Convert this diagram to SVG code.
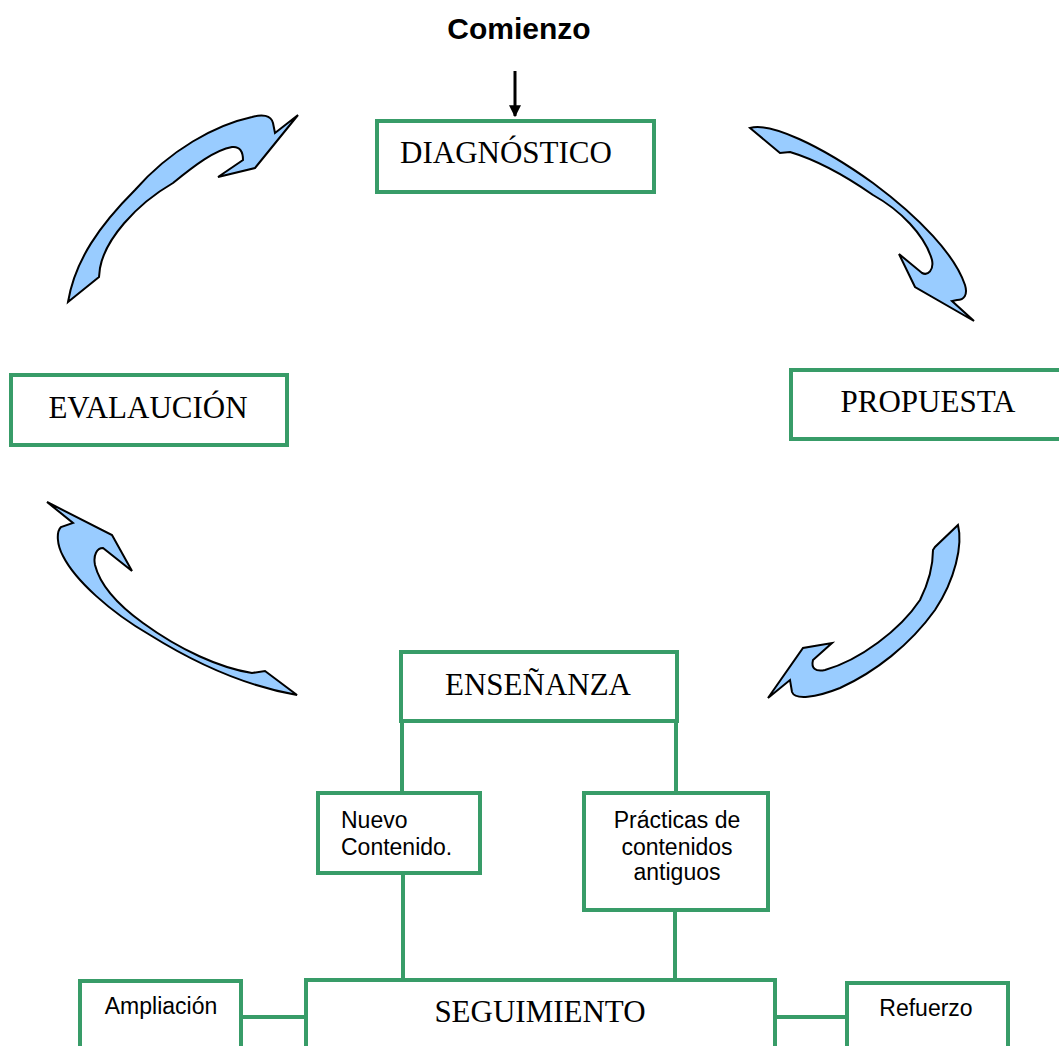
<svg xmlns="http://www.w3.org/2000/svg" width="1059" height="1046" viewBox="0 0 1059 1046">
<defs>
<marker id="ah" viewBox="0 0 10 10" refX="9" refY="5" markerWidth="4" markerHeight="4" orient="auto" markerUnits="strokeWidth"><path d="M0,0 L10,5 L0,10 Z" fill="#000"/></marker>
<style>
.box{fill:#fff;stroke:#389c68;stroke-width:4}
.ln{stroke:#389c68;stroke-width:4;fill:none}
.big{font-family:"Liberation Serif",serif;font-size:31px;fill:#000;text-anchor:middle}
.sm{font-family:"Liberation Sans",Arial,sans-serif;font-size:23px;fill:#000}
.cur{fill:#99ccff;stroke:#000;stroke-width:2;stroke-linejoin:miter}
</style>
</defs>
<rect width="1059" height="1046" fill="#fff"/>
<g id="comienzo">
<text x="519" y="39" font-family="Liberation Sans,Arial,sans-serif" font-weight="bold" font-size="30" text-anchor="middle">Comienzo</text>
</g>
<g id="connectors">
<line x1="515" y1="71" x2="515" y2="116" stroke="#000" stroke-width="3" marker-end="url(#ah)"/>
<path class="cur" d="M68,302 L99,277 L100,268 C105,240 135,205 173,183 C195,165 215,150 232,147 C240,146 243,152 243,160 L218,177 L255,168 L298,115 L275,133 L273,123 C271,115 262,114 252,117 C215,125 170,150 135,190 C100,225 75,260 68,302 Z"/>
<path class="cur" d="M750,128 C770,122 820,145 873,183 C920,218 955,255 965,285 C968,295 964,300 957,300 L952,301 L974,321 L915,287 L899,254 L922,273 C928,276 934,270 932,260 C925,235 900,210 873,195 C840,172 810,158 790,152 L780,153 Z"/>
<path class="cur" d="M47,502 L73,523 L61,527 C56,532 57,545 63,556 C75,580 110,612 150,635 C190,660 240,685 297,695 L265,671 L252,673 C220,668 180,650 143,623 C118,605 100,585 95,565 C93,555 97,548 103,548 L132,571 L112,535 Z"/>
<path class="cur" d="M958,525 C963,545 955,580 935,610 C910,645 875,672 840,688 C815,698 795,700 792,692 L790,680 L768,698 L803,648 L832,643 L813,660 C811,668 815,672 825,670 C860,660 900,630 920,600 C930,580 933,565 933,550 L935,547 Z"/>
<path class="ln" d="M402,721 V793 M676,721 V793 M403,873 V980 M675,910 V980"/>
<path class="ln" d="M241,1017 H306 M775,1017 H847" stroke-width="6"/>
</g>
<g id="diagnostico">
<rect class="box" x="377" y="121" width="277" height="71"/>
<text class="big" x="506" y="163">DIAGNÓSTICO</text>
</g>
<g id="propuesta">
<rect class="box" x="791" y="370" width="280" height="69"/>
<text class="big" x="928" y="412">PROPUESTA</text>
</g>
<g id="evaluacion">
<rect class="box" x="11" y="375" width="276" height="70"/>
<text class="big" x="148" y="418">EVALAUCIÓN</text>
</g>
<g id="ensenanza">
<rect class="box" x="401" y="652" width="276" height="69"/>
<text class="big" x="538" y="695">ENSEÑANZA</text>
</g>
<g id="nuevo">
<rect class="box" x="318" y="793" width="162" height="80"/>
<text class="sm" x="341" y="828">Nuevo</text>
<text class="sm" x="341" y="855">Contenido.</text>
</g>
<g id="practicas">
<rect class="box" x="584" y="793" width="184" height="117"/>
<text class="sm" x="677" y="828" text-anchor="middle">Prácticas de</text>
<text class="sm" x="677" y="855" text-anchor="middle">contenidos</text>
<text class="sm" x="677" y="880" text-anchor="middle">antiguos</text>
</g>
<g id="seguimiento">
<rect class="box" x="306" y="980" width="469" height="90"/>
<text class="big" x="540" y="1022">SEGUIMIENTO</text>
</g>
<g id="ampliacion">
<rect class="box" x="80" y="981" width="161" height="90"/>
<text class="sm" x="161" y="1014" text-anchor="middle">Ampliación</text>
</g>
<g id="refuerzo">
<rect class="box" x="847" y="983" width="161" height="90"/>
<text class="sm" x="926" y="1016" text-anchor="middle">Refuerzo</text>
</g>
</svg>
